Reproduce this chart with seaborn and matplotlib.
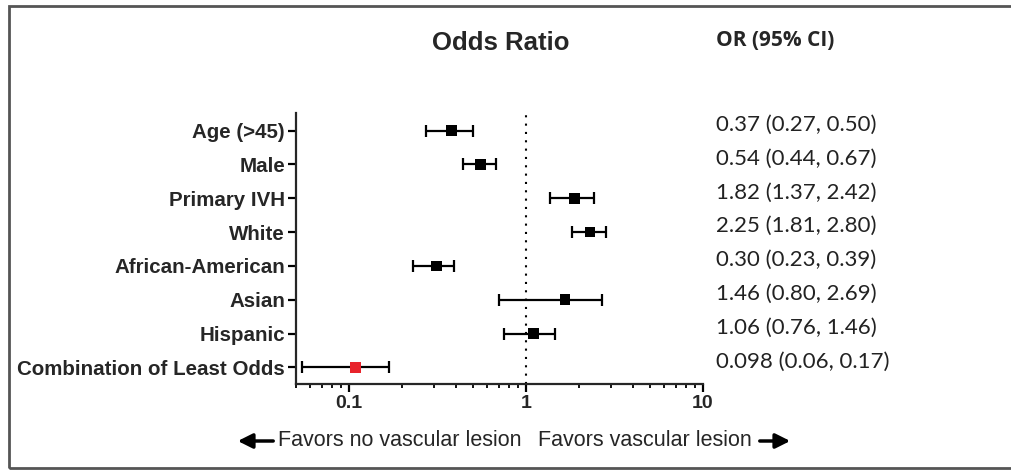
import matplotlib
matplotlib.use("Agg")
import matplotlib.pyplot as plt
import matplotlib.transforms as mtransforms
from matplotlib.patches import Rectangle, FancyArrowPatch
import seaborn as sns
import pandas as pd

# Data
factors = ['Age (>45)', 'Male', 'Primary IVH', 'White', 'African-American',
           'Asian', 'Hispanic', 'Combination of Least Odds']
odds = [0.38, 0.55, 1.88, 2.30, 0.31, 1.66, 1.10, 0.108]
ci_low = [0.27, 0.44, 1.36, 1.81, 0.23, 0.70, 0.75, 0.054]
ci_high = [0.50, 0.68, 2.43, 2.84, 0.39, 2.68, 1.46, 0.167]
or_labels = ['0.37 (0.27, 0.50)', '0.54 (0.44, 0.67)', '1.82 (1.37, 2.42)',
             '2.25 (1.81, 2.80)', '0.30 (0.23, 0.39)', '1.46 (0.80, 2.69)',
             '1.06 (0.76, 1.46)', '0.098 (0.06, 0.17)']
highlight = [False] * 7 + [True]

df = pd.DataFrame({'factor': factors, 'odds': odds, 'lo': ci_low, 'hi': ci_high,
                   'row': range(len(factors)), 'highlight': highlight})

sns.set_style("ticks")
plt.rcParams['font.family'] = ['Liberation Sans', 'DejaVu Sans']

fig = plt.figure(figsize=(10.12, 4.70), dpi=100)
ax = fig.add_axes([296 / 1012, 1 - 384 / 470, (703 - 296) / 1012, (384 - 113) / 470])

# reference line at OR = 1
ax.axvline(1, color='black', linestyle=(0, (1, 3)), lw=1.5, zorder=1)

# confidence intervals
ax.errorbar(df['odds'], df['row'],
            xerr=[df['odds'] - df['lo'], df['hi'] - df['odds']],
            fmt='none', ecolor='black', elinewidth=1.6, capsize=4, capthick=1.6, zorder=2)

# point estimates
sns.scatterplot(data=df, x='odds', y='row', hue='highlight',
                palette={False: 'black', True: '#e8232b'},
                marker='s', s=60, linewidth=0, legend=False, ax=ax, zorder=3)

ax.set_xscale('log')
ax.set_xlim(0.05, 10)
ax.set_ylim(7.49, -0.52)
ax.set_xticks([0.1, 1, 10])
ax.set_xticklabels(['0.1', '1', '10'], fontsize=14, fontweight='bold')
ax.set_yticks(range(len(factors)))
ax.set_yticklabels(factors, fontsize=14.8, fontweight='bold')
ax.set_xlabel('')
ax.set_ylabel('')
sns.despine(ax=ax)
for s in ['left', 'bottom']:
    ax.spines[s].set_linewidth(1.6)
ax.tick_params(axis='both', which='major', width=1.6, length=6, color='black')
ax.tick_params(axis='x', which='minor', width=1.3, length=3, color='black')
ax.tick_params(axis='x', pad=2)
ax.tick_params(axis='y', pad=2)

# OR column on the right
trans = mtransforms.blended_transform_factory(fig.transFigure, ax.transData)
for i, lab in enumerate(or_labels):
    ax.text(716 / 1012, i - 0.17, lab, transform=trans, ha='left', va='center',
            fontsize=16, family=['Lato', 'DejaVu Sans'], color='#222222')

fig.text(501 / 1012, 1 - 43 / 470, 'Odds Ratio', ha='center', va='center',
         fontsize=18.5, fontweight='bold')
fig.text(716 / 1012, 1 - 41 / 470, 'OR (95% CI)', ha='left', va='center',
         fontsize=15, fontweight='bold', family=['Open Sans', 'DejaVu Sans'])

# bottom direction labels with arrows
y_arrow = 1 - 441 / 470
fig.text(278 / 1012, y_arrow, 'Favors no vascular lesion', ha='left', va='center', fontsize=15.5)
fig.text(538 / 1012, y_arrow, 'Favors vascular lesion', ha='left', va='center', fontsize=15.5)
fig.add_artist(FancyArrowPatch(
    (276 / 1012, y_arrow), (235 / 1012, y_arrow), transform=fig.transFigure,
    arrowstyle='-|>', mutation_scale=22, lw=2.5, color='black'))
fig.add_artist(FancyArrowPatch(
    (757 / 1012, y_arrow), (793 / 1012, y_arrow), transform=fig.transFigure,
    arrowstyle='-|>', mutation_scale=22, lw=2.5, color='black'))

# outer frame
fig.add_artist(Rectangle((9 / 1012, 2 / 470), 1.0, 1 - 8 / 470, transform=fig.transFigure,
                         fill=False, edgecolor='#555555', lw=2))

fig.savefig('out.png', dpi=100)
